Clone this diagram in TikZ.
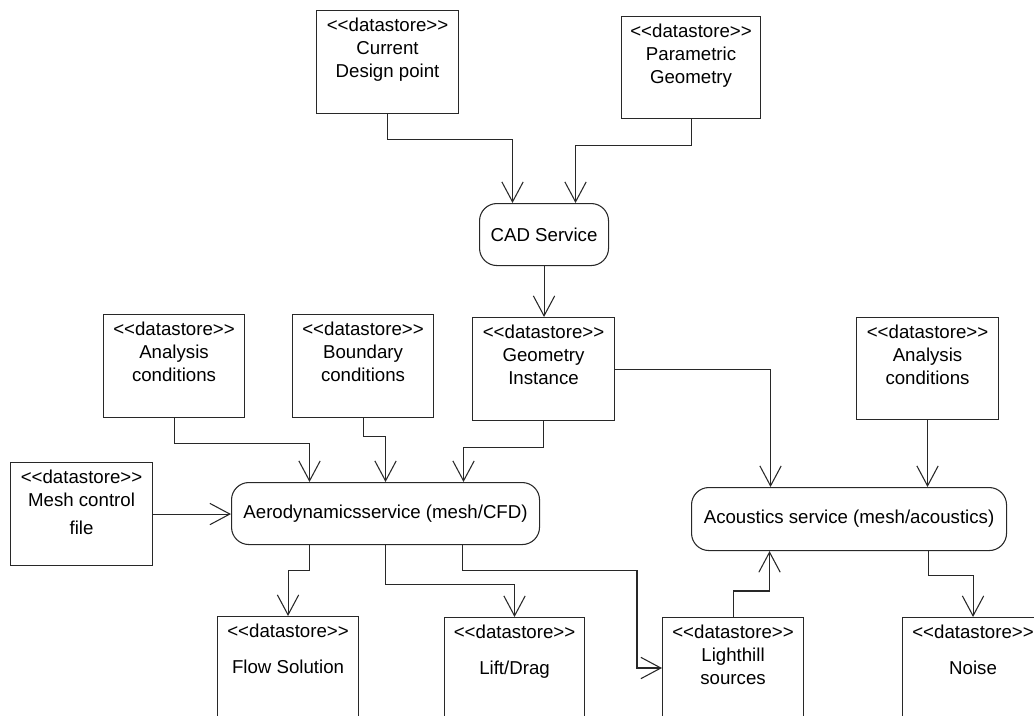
\documentclass[tikz,border=0pt]{standalone}
\usepackage{fontspec}
\setmainfont{Liberation Sans}[Ligatures=TeXOff]
\usetikzlibrary{arrows.meta,calc}
\definecolor{lc}{RGB}{40,40,40}
\tikzset{
  line/.style={draw=lc, line width=0.8pt},
  arr/.style={line, -{Straight Barb[length=15pt,width=16pt]}},
  dsbox/.style={draw=lc, line width=0.8pt, anchor=north west, inner sep=0pt},
  svc/.style={draw=lc, line width=0.8pt, anchor=north west, rounded corners=13pt, inner sep=0pt, font=\fontsize{14}{17}\selectfont},
  dstext/.style={anchor=north, inner sep=0pt, align=center, font=\fontsize{14}{17}\selectfont},
}
\newcommand\dstore[6]{%
  \node[dsbox, minimum width={#4*0.75pt}, minimum height={#5*0.75pt}] (#1) at (#2,#3) {};
  \node[dstext] (#1t) at ($(#1.north)+(0,8)$) {#6};}
\begin{document}
\begin{tikzpicture}[x=0.75pt,y=-0.75pt]
\useasboundingbox (0,0) rectangle (1034,715);
\clip (0,0) rectangle (1034,715);
% datastores
\dstore{cur}{316}{10}{142}{103}{<<datastore>>\\Current\\Design point}
\dstore{par}{621}{16}{139}{102}{<<datastore>>\\Parametric\\Geometry}
\dstore{ana1}{103}{314}{141}{103}{<<datastore>>\\Analysis\\conditions}
\dstore{bnd}{292}{314}{141}{103}{<<datastore>>\\Boundary\\conditions}
\dstore{geo}{472}{317}{142}{103}{<<datastore>>\\Geometry\\Instance}
\dstore{ana2}{856}{317}{142}{102}{<<datastore>>\\Analysis\\conditions}
\dstore{mesh}{10}{462}{142}{103}{<<datastore>>\\Mesh control\\[4pt]file}
\dstore{flow}{217}{616}{141}{130}{<<datastore>>\\[10pt]Flow Solution}
\dstore{lift}{444}{617}{140}{130}{<<datastore>>\\[10pt]Lift/Drag}
\dstore{light}{662}{617}{141}{130}{<<datastore>>\\Lighthill\\sources}
\dstore{noise}{902}{617}{141}{130}{<<datastore>>\\[10pt]Noise}
% services
\node[svc, minimum width={129*0.75pt}, minimum height={62*0.75pt}] (cad) at (479,203) {CAD Service};
\node[svc, minimum width={308*0.75pt}, minimum height={62*0.75pt}] (aero) at (231,482) {Aerodynamicsservice (mesh/CFD)};
\node[svc, minimum width={315*0.75pt}, minimum height={63*0.75pt}] (acou) at (691,487) {Acoustics service (mesh/acoustics)};
\coordinate (lw) at ($(light.north west)+(0,51)$);
% connectors
\draw[arr] (cur.south) -- ++(0,25) -| ($(cad.north)+(-31.5,0)$);
\draw[arr] (par.south) -- ++(0,26) -| ($(cad.north)+(31.5,0)$);
\draw[arr] (cad.south) -- (cad.south |- geo.north);
\draw[arr] (ana1.south) -- ++(0,25) -| ($(aero.north)+(-76,0)$);
\draw[arr] (bnd.south) -- ++(0,18) -| (aero.north);
\draw[arr] (geo.south) -- ++(0,26) -| ($(aero.north)+(78,0)$);
\draw[arr] (mesh.east) -- (mesh.east -| aero.west);
\draw[arr] (geo.east) -| ($(acou.north)+(-78.5,0)$);
\draw[arr] (ana2.south) -- (ana2.south |- acou.north);
\draw[arr] ($(aero.south)+(-76,0)$) -- ++(0,25) -| (flow.north);
\draw[arr] (aero.south) -- ++(0,39) -| (lift.north);
\draw[arr] ($(aero.south)+(77,0)$) -- ++(0,25) -| ($(lw)+(-25,0)$) -- (lw);
\draw[arr] (light.north) -- ++(0,-26) -| ($(acou.south)+(-79.5,0)$);
\draw[arr] ($(acou.south)+(79.5,0)$) -- ++(0,24) -| (noise.north);
\end{tikzpicture}
\end{document}
